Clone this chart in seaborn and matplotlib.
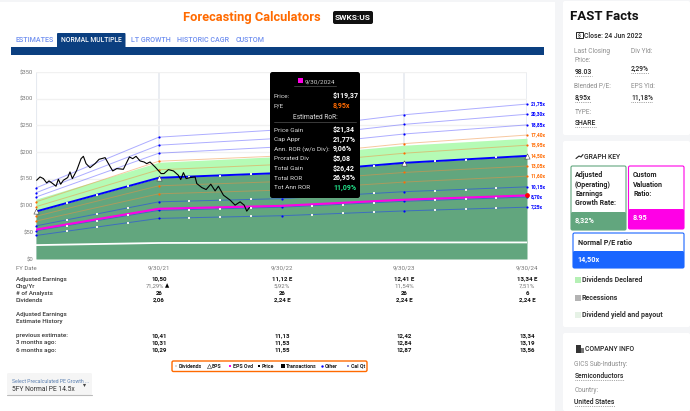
"""
plot.py
-------
FAST Graphs style forecasting calculator for SWKS:US.
"""

import pandas as pd
import matplotlib
matplotlib.use("Agg")
import matplotlib.pyplot as plt
import seaborn as sns
from matplotlib.patches import FancyBboxPatch, Rectangle

# ─── Chart data ───────────────────────────────────────────────────────────────

years = [0, 1, 2, 3, 4]
fy_labels = ["9/30/21", "9/30/22", "9/30/23", "9/30/24"]
y_ticks = [0, 50, 100, 150, 200, 250, 300, 350]

pe_upper = {
    "21,75x": [133, 228, 242, 270, 290],
    "20,30x": [124, 213, 226, 252, 271],
    "18,85x": [116, 198, 210, 234, 251],
}
pe_orange = {
    "17,40x": [107, 183, 193, 216, 232],
    "15,95x": [98, 167, 177, 198, 213],
    "13,05x": [80, 137, 145, 162, 174],
    "11,60x": [71, 122, 129, 144, 155],
}
pe_lower = {
    "10,15x": [62, 107, 113, 126, 135],
    "8,70x": [53, 91, 97, 108, 116],
    "7,25x": [44, 76, 81, 90, 97],
}
normal_pe = [89, 152, 161, 180, 193]
custom_pe = [55, 94, 99.5, 111, 119]
dividend_top = [112, 181, 192, 213, 226]
payout_line = [26, 30, 30.5, 31, 31]

triangle_years = [0, 1, 3, 4]
triangle_values = [89, 152, 180, 193]

quarter_years = [0.25, 0.5, 0.75, 1.25, 1.5, 1.75, 2.25, 2.5, 2.75, 3.25, 3.5, 3.75]
quarter_normal = [105, 120, 136, 154, 156, 159, 166, 170, 175, 183, 186, 190]
quarter_1015 = [73, 84, 96, 108.5, 110, 111.5, 116, 120, 123, 128, 130, 133]
quarter_870 = [62.5, 72, 81.5, 92.5, 94, 95.5, 100, 102, 105, 110, 112, 114]
quarter_725 = [52, 60, 68, 77, 78.5, 80, 83, 85.5, 88, 92, 93.5, 95]

price_years = [
    0.005, 0.033, 0.060, 0.087, 0.106, 0.136, 0.163, 0.182, 0.201, 0.223, 0.258,
    0.277, 0.296, 0.332, 0.367, 0.386, 0.408, 0.440, 0.481, 0.514, 0.563, 0.590,
    0.625, 0.658, 0.712, 0.734, 0.761, 0.788, 0.815, 0.848, 0.880, 0.902, 0.929,
    0.970, 1.019, 1.043, 1.079, 1.120, 1.160, 1.179, 1.201, 1.223, 1.255, 1.296,
    1.310, 1.351, 1.386, 1.424, 1.459, 1.486, 1.527, 1.582, 1.622, 1.663, 1.696,
    1.717, 1.739,
]
price_values = [
    147.4, 153.6, 150.5, 142.4, 146.2, 141.2, 136.2, 149.3, 140.0, 147.4, 152.4,
    163.0, 150.5, 166.1, 187.8, 192.2, 178.5, 171.0, 178.5, 186.6, 189.7, 178.5,
    164.8, 169.2, 167.9, 178.5, 191.0, 187.8, 192.2, 183.5, 181.6, 178.5, 181.6,
    172.3, 159.9, 159.9, 167.3, 164.8, 156.7, 148.7, 161.7, 150.5, 152.4, 153.6,
    141.2, 133.7, 130.0, 140.0, 127.5, 136.2, 119.4, 110.1, 100.8, 107.0, 100.8,
    89.6, 96.4,
]

# ─── Table data ───────────────────────────────────────────────────────────────

earnings = ["10,50", "11,12 E", "12,41 E", "13,34 E"]
growth = ["71,29%", "5,92%", "11,54%", "7,51%"]
analysts = ["26", "26", "26", "6"]
dividends = ["2,06", "2,24 E", "2,24 E", "2,24 E"]
previous_est = ["10,41", "11,13", "12,42", "13,34"]
three_months = ["10,31", "11,53", "12,84", "13,19"]
six_months = ["10,29", "11,55", "12,87", "13,56"]

tabs = ["ESTIMATES", "LT GROWTH", "HISTORIC CAGR", "CUSTOM"]
tab_x = [16, 131, 177, 236]

tip_labels = ["Price Gain", "Cap Appr", "Ann. ROR (w/o Div):", "Prorated Div",
              "Total Gain", "Total ROR", "Tot Ann ROR"]
tip_values = ["$21,34", "21,77%", "9,06%", "$5,08", "$26,42", "26,95%", "11,09%"]

# ─── Theme ────────────────────────────────────────────────────────────────────

sns.set_theme(style="whitegrid")
plt.rcParams["font.family"] = ["Roboto", "DejaVu Sans"]

BLUE = "#0000ff"
ORANGE = "#ff6a00"
MAGENTA = "#ff00e6"
NAVY = "#0b3f80"
DARK_GREEN = "#62a67e"
LIGHT_GREEN = "#b5fbb5"

fig = plt.figure(figsize=(6.9, 4.11), dpi=100)
fig.patch.set_facecolor("white")


def px_axes(z):
    """Full-figure axes measured in pixels, y going down."""
    a = fig.add_axes([0, 0, 1, 1], zorder=z)
    a.set_xlim(0, 690)
    a.set_ylim(411, 0)
    a.axis("off")
    a.patch.set_alpha(0)
    return a


bg = px_axes(0)
ui = px_axes(2)


def txt(x, y, s, size=4.6, color="#222222", weight="normal", ha="left", **kw):
    ui.text(x, y, s, fontsize=size, color=color, fontweight=weight, ha=ha,
            va="center", **kw)


def box(a, x0, y0, x1, y1, face, edge="none", lw=0, r=0.0, z=1):
    if r:
        p = FancyBboxPatch((x0, y0), x1 - x0, y1 - y0, facecolor=face, edgecolor=edge,
                           linewidth=lw, boxstyle=f"round,pad=0,rounding_size={r}",
                           zorder=z)
    else:
        p = Rectangle((x0, y0), x1 - x0, y1 - y0, facecolor=face, edgecolor=edge,
                      linewidth=lw, zorder=z)
    a.add_patch(p)


# ─── Page background ──────────────────────────────────────────────────────────

box(bg, 0, 0, 690, 411, "#f4f5f7")
box(bg, 0, 2, 555, 411, "white")
box(bg, 563, 1, 690, 135, "white", r=2)
box(bg, 563, 141, 690, 327, "white", r=2)
box(bg, 563, 333, 690, 411, "white", r=2)

# ─── Main chart ───────────────────────────────────────────────────────────────

ax = fig.add_axes([36 / 690, (411 - 259) / 411, 491 / 690, 187 / 411], zorder=1)
ax.patch.set_alpha(0)

ax.fill_between(years, 0, normal_pe, color=DARK_GREEN, lw=0, zorder=1.2)
ax.fill_between(years, normal_pe, dividend_top, color=LIGHT_GREEN, lw=0, zorder=1.2)
sns.lineplot(x=years, y=payout_line, color="white", lw=1.3, ax=ax, zorder=1.4,
             estimator=None, errorbar=None)


def draw_band(lines, color, alpha, dot):
    df = pd.DataFrame(lines, index=years).reset_index(names="year")
    long_df = df.melt(id_vars="year", var_name="pe", value_name="value")
    sns.lineplot(data=long_df, x="year", y="value", hue="pe",
                 palette={k: color for k in lines}, lw=0.7, alpha=alpha,
                 legend=False, ax=ax, zorder=2, estimator=None, errorbar=None)
    sns.scatterplot(data=long_df, x="year", y="value", color=dot, s=2.5, lw=0,
                    legend=False, ax=ax, zorder=2.2, clip_on=False)
    for name, vals in lines.items():
        ax.text(4.03, vals[-1], name, color=dot, fontsize=3.5, fontweight="bold",
                va="center")


draw_band(pe_upper, "#6a6aff", 0.55, BLUE)
draw_band(pe_orange, "#f09040", 0.5, ORANGE)
draw_band(pe_lower, "#2a50e0", 0.65, BLUE)

for q_vals in (quarter_normal, quarter_1015, quarter_870, quarter_725):
    sns.scatterplot(x=quarter_years, y=q_vals, color="#f2f2f2", marker="s", s=2.5,
                    lw=0, ax=ax, zorder=3.2)

sns.lineplot(x=years, y=custom_pe, color=MAGENTA, lw=1.5, ax=ax, zorder=3,
             estimator=None, errorbar=None)
sns.lineplot(x=years, y=normal_pe, color=BLUE, lw=1.4, ax=ax, zorder=3,
             estimator=None, errorbar=None)
sns.lineplot(x=price_years, y=price_values, color="black", lw=0.8, ax=ax, zorder=4,
             estimator=None, errorbar=None)
sns.scatterplot(x=triangle_years, y=triangle_values, marker="^", s=14, color="white",
                edgecolor="#444444", lw=0.4, ax=ax, zorder=5, clip_on=False)
sns.scatterplot(x=[4], y=[custom_pe[-1]], color="red", s=12, lw=0, ax=ax, zorder=5,
                clip_on=False)
ax.text(4.03, normal_pe[-1], "14,50x", color=ORANGE, fontsize=3.5, fontweight="bold",
        va="center")

ax.set_xlim(0, 4)
ax.set_ylim(0, 350)
ax.set_xticks([1, 2, 3, 4], fy_labels)
ax.set_yticks(y_ticks, [f"${v}" for v in y_ticks])
ax.tick_params(axis="x", labelsize=4.4, labelcolor="#777777", pad=5, length=0)
ax.tick_params(axis="y", labelsize=4.2, labelcolor="#777777", pad=2, length=0)
ax.grid(axis="y", color="#f1f1f1", lw=1)
ax.grid(axis="x", color="#e6eaf0", lw=1.2)
ax.axvline(0, color="#e6eaf0", lw=0.8, zorder=0.5)
for s in ax.spines.values():
    s.set_visible(False)
ax.set_xlabel("")
ax.set_ylabel("")

# ─── Title and tabs ───────────────────────────────────────────────────────────

txt(252, 17, "Forecasting Calculators", 9.3, ORANGE, "bold", ha="center")
box(ui, 333, 11, 373, 24, "#111111", r=2)
txt(353, 17.5, "SWKS:US", 6, "white", "bold", ha="center")

box(ui, 11, 47, 544, 55, NAVY)
box(ui, 57, 33, 125.5, 48, NAVY, r=1)
txt(91, 39.5, "NORMAL MULTIPLE", 4.9, "white", "medium", ha="center")
for x, name in zip(tab_x, tabs):
    txt(x, 39.5, name, 5.1, "#6f8ff0", "medium")

# ─── Tooltip ──────────────────────────────────────────────────────────────────

box(ui, 270, 72, 360, 198, "black", r=2.5, z=5)
box(ui, 298, 78.5, 303, 83.5, MAGENTA, z=6)
TIP = dict(zorder=7)
txt(304.5, 81.5, "9/30/2024", 4.6, "#cccccc", **TIP)
ui.plot([294, 336], [86.5, 86.5], color="#444444", lw=0.6, zorder=6)
txt(274, 96, "Price:", 4.6, "#dddddd", **TIP)
txt(333, 96, "$119,37", 5, "white", "bold", **TIP)
txt(274, 105.5, "P/E", 4.6, "#dddddd", **TIP)
txt(333, 105.5, "8,95x", 5, ORANGE, "bold", **TIP)
txt(315, 117.5, "Estimated RoR:", 4.8, "#dddddd", ha="center", **TIP)
ui.plot([274, 356], [122.5, 122.5], color="#444444", lw=0.6, zorder=6)
for i, (lab, val) in enumerate(zip(tip_labels, tip_values)):
    yy = 130 + i * 9.63
    col = "#22e38a" if i == 6 else "white"
    txt(274, yy, lab, 4.6, "#dddddd", **TIP)
    txt(333, yy, val, 5, col, "bold", **TIP)

# ─── Table under the chart ────────────────────────────────────────────────────

col_x = [159, 282, 404, 527]
txt(16, 268.5, "FY Date", 4.3, "#777777")


def table_row(y, label, values, color="#111111", weight="bold"):
    txt(16, y, label, 4.5, "#333333", "medium")
    for x, v in zip(col_x, values):
        txt(x, y, v, 4.4, color, weight, ha="center")


table_row(279, "Adjusted Earnings", earnings)
txt(16, 286, "Chg/Yr", 4.5, "#333333", "medium")
txt(155.5, 286, growth[0], 4.2, "#777777", ha="center")
for x, v in zip(col_x[1:], growth[1:]):
    txt(x, 286, v, 4.4, "#777777", ha="center")
txt(165, 286, "▲", 4, "black", family="DejaVu Sans")
table_row(293, "# of Analysts", analysts)
table_row(300, "Dividends", dividends)
txt(16, 314, "Adjusted Earnings", 4.5, "#333333", "medium")
txt(16, 321, "Estimate History", 4.5, "#333333", "medium")
table_row(335.7, "previous estimate:", previous_est)
table_row(342.8, "3 months ago:", three_months)
table_row(350, "6 months ago:", six_months)

# ─── Legend strip ─────────────────────────────────────────────────────────────

box(ui, 172, 361, 367, 371.5, "white", edge=ORANGE, lw=1, r=1.5)
legend_items = [(179, "Dividends"), (212, "EPS"), (233, "EPS Ovd"), (262, "Price"),
                (286, "Transactions"), (325, "Other"), (351, "Cal Qt")]
for x, name in legend_items:
    txt(x, 366.3, name, 3.8, "#222222", "bold")
ui.scatter([176], [366.3], s=3, color="#dcdcdc", marker="s", lw=0)
ui.scatter([209], [366.3], s=9, color="white", edgecolor="#333333", marker="^", lw=0.4)
ui.scatter([230], [366.3], s=4, color=MAGENTA, marker="s", lw=0)
ui.scatter([259], [366.3], s=3, color="black", marker="s", lw=0)
ui.scatter([283], [366.3], s=9, color="black", marker="s", lw=0)
ui.scatter([322], [366.3], s=3, color=BLUE, marker="o", lw=0)
ui.scatter([348], [366.3], s=2, color="#8888cc", marker="s", lw=0)

# ─── Dropdown ─────────────────────────────────────────────────────────────────

box(ui, 7, 373, 92, 395, "#f5f5f5", r=1.5)
ui.plot([7, 92], [395, 395], color="#bbbbbb", lw=0.8)
txt(12, 381, "Select Precalculated PE Growth ...", 3.7, "#5a7fb0")
txt(12, 389, "5FY Normal PE 14.5x", 4.9, "#333333")
ui.scatter([84], [385], s=5, color="#444444", marker="v", lw=0)

# ─── FAST Facts card ──────────────────────────────────────────────────────────

txt(570, 17, "FAST Facts", 9.5, "#111111", "bold")
box(ui, 576, 32, 583, 38, "white", edge="#222222", lw=0.7)
txt(579.5, 35.2, "$", 3.6, "#222222", "bold", ha="center")
txt(584.5, 35.5, "Close: 24 Jun 2022", 4.9, "#222222", "medium")


def fact(x, y, label, value, vy, dash):
    txt(x, y, label, 4.7, "#8d8d8d")
    txt(x, vy, value, 4.9, "#222222", "medium")
    ui.plot([x, x + dash], [vy + 4.5, vy + 4.5], color="#555555", lw=0.5, ls=":")


txt(574.5, 51.5, "Last Closing", 4.7, "#8d8d8d")
fact(574.5, 60.5, "Price:", "98.03", 71.5, 17)
fact(631, 51.5, "Div Yld:", "2,29%", 68.5, 18)
fact(574.5, 86.5, "Blended P/E:", "8,95x", 97.5, 16)
fact(631, 86.5, "EPS Yld:", "11,18%", 97.5, 22)
fact(574.5, 112, "TYPE:", "SHARE", 123, 21)

# ─── Graph key card ───────────────────────────────────────────────────────────

ui.plot([576, 579, 581, 583], [158.5, 156, 157, 154.5], color="#222222", lw=0.8)
txt(584.5, 156.5, "GRAPH KEY", 4.9, "#222222", "medium")

box(ui, 571, 166, 626, 230, "white", edge=DARK_GREEN, lw=0.8, r=1.5)
box(ui, 571, 212, 626, 230, DARK_GREEN, r=1.5)
box(ui, 628.5, 166, 684, 229, "white", edge=MAGENTA, lw=0.8, r=1.5)
box(ui, 628.5, 209, 684, 229, MAGENTA, r=1.5)
box(ui, 573, 233, 684, 268, "white", edge="#1a66ff", lw=0.8, r=1.5)
box(ui, 573, 251, 684, 268, "#1a66ff", r=1.5)

for yy, s in zip([175, 184.5, 194, 203], ["Adjusted", "(Operating)", "Earnings", "Growth Rate:"]):
    txt(575, yy, s, 5, "#222222", "bold")
for yy, s in zip([175, 184.5, 194], ["Custom", "Valuation", "Ratio:"]):
    txt(633, yy, s, 5, "#222222", "bold")
txt(575, 221, "8,32%", 5.2, "white", "bold")
txt(633, 218, "8.95", 5.2, "white", "bold")
txt(577.5, 242, "Normal P/E ratio", 5.2, "#222222", "bold")
txt(577.5, 260, "14,50x", 5.2, "white", "bold")

for yy, face, s in [(280, "#b5f0b5", "Dividends Declared"),
                    (297.5, "#b3b3b3", "Recessions"),
                    (315, "#e6f2e6", "Dividend yield and payout")]:
    box(ui, 574.5, yy - 3, 580.5, yy + 3, face)
    txt(582, yy, s, 5, "#333333", "bold")

# ─── Company info card ────────────────────────────────────────────────────────

box(ui, 575.5, 345, 581, 352.5, "#333333")
box(ui, 581, 347.5, 583.5, 352.5, "#777777")
txt(585, 348.5, "COMPANY INFO", 4.9, "#222222", "medium")
fact(574.5, 364.5, "GICS Sub-Industry:", "Semiconductors", 375.5, 49)
fact(574.5, 390.5, "Country:", "United States", 401.5, 40)

fig.savefig("out.png", dpi=100)
